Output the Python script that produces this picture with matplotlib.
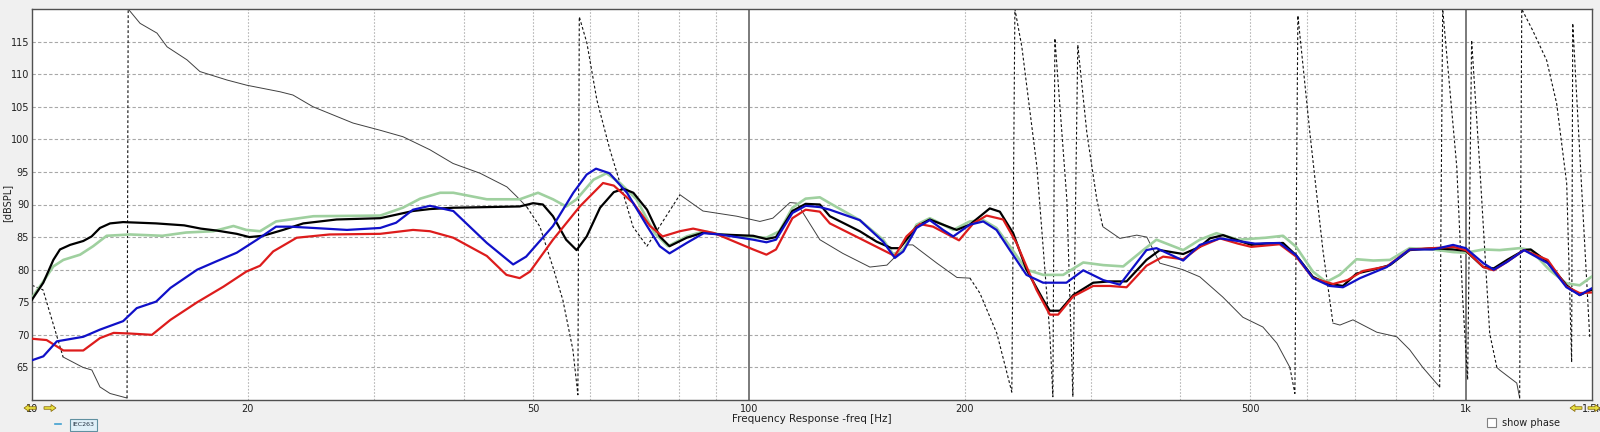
import matplotlib
matplotlib.use("Agg")
import matplotlib.pyplot as plt
from matplotlib.patches import Rectangle, FancyArrow

# frequency response traces [Hz], [dBSPL]
black_hz = [10.0, 10.37, 10.71, 10.94, 11.3, 11.79, 12.11, 12.44, 12.85, 13.4, 14.9, 16.3, 17.2, 18.1,
            19.3, 20.1, 21.0, 22.4, 23.9, 26.6, 30.6, 34.0, 35.9, 38.7, 47.9, 50.0, 51.6, 53.3, 55.6,
            57.5, 59.4, 62.0, 64.8, 66.9, 69.0, 72.1, 75.1, 77.5, 81.9, 86.5, 91.1, 101.4, 105.8, 109.1,
            115.0, 120.0, 125.6, 129.7, 142.8, 150.7, 158.1, 162.4, 171.3, 178.8, 186.6, 194.9, 203.3,
            216.8, 223.9, 233.7, 243.9, 257.3, 262.9, 271.5, 283.4, 302.2, 318.8, 336.4, 358.6, 374.3,
            403.5, 425.6, 439.5, 458.6, 481, 502, 526, 556, 580, 612, 639, 674, 704, 743, 784, 835, 900,
            960, 1000, 1058, 1094, 1142, 1206, 1232, 1301, 1382, 1442, 1497]
black_db = [75.4, 78.0, 81.5, 83.1, 83.8, 84.4, 85.1, 86.4, 87.1, 87.3, 87.1, 86.8, 86.3, 86.0,
            85.5, 85.0, 85.2, 86.1, 87.1, 87.7, 87.9, 89.0, 89.3, 89.5, 89.7, 90.2, 90.0, 88.2, 84.6,
            83.0, 85.1, 89.5, 91.9, 92.4, 91.8, 89.2, 85.1, 83.6, 84.9, 85.7, 85.4, 85.2, 84.7, 85.0,
            89.0, 90.1, 90.0, 88.2, 85.9, 84.3, 83.3, 83.3, 86.6, 87.7, 86.9, 86.1, 86.9,
            89.4, 88.9, 85.6, 80.0, 75.4, 73.7, 73.7, 76.1, 78.0, 78.2, 78.2, 81.5, 83.0,
            82.4, 83.5, 84.8, 85.3, 84.5, 83.8, 84.0, 84.1, 82.2, 78.9, 77.9, 77.5, 79.4, 80.0, 80.7, 83.0, 83.3,
            83.1, 82.9, 80.4, 80.2, 81.5, 83.0, 83.1, 81.2, 77.6, 76.1, 76.9]

green_hz = [10.0, 10.37, 10.71, 11.06, 11.67, 12.17, 12.71, 13.7, 15.2, 16.4, 17.9, 19.1, 19.9, 20.8,
            21.9, 24.7, 30.6, 32.9, 34.8, 37.1, 38.7, 43.1, 47.9, 50.8, 53.3, 55.6, 57.5, 60.7, 63.3,
            66.1, 69.7, 73.9, 77.1, 81.9, 86.5, 91.1, 101.4, 105.8, 110.3, 115.0, 120.0, 125.6, 129.7,
            142.8, 153.9, 158.9, 164.2, 171.3, 178.8, 186.6, 192.8, 203.3, 212.3, 221.5, 231.2, 243.9,
            257.3, 274.4, 292.7, 312.1, 332.8, 354.8, 370.3, 403.5, 425.6, 449, 481, 526, 556, 580, 612,
            639, 667, 704, 743, 784, 835, 900, 960, 1000, 1058, 1115, 1189, 1232, 1310, 1382, 1442, 1497]
green_db = [75.7, 78.2, 80.5, 81.5, 82.3, 83.6, 85.2, 85.4, 85.2, 85.7, 85.9, 86.7, 86.1, 85.9,
            87.4, 88.2, 88.3, 89.5, 90.9, 91.8, 91.8, 90.8, 90.8, 91.8, 90.8, 89.7, 90.8, 93.8, 94.8,
            93.3, 90.8, 85.6, 83.6, 85.1, 85.9, 85.4, 85.0, 84.9, 85.9, 89.5, 90.9, 91.1, 90.2,
            87.6, 84.6, 82.4, 83.0, 86.9, 87.9, 86.9, 86.1, 87.4, 87.6, 86.4, 83.6, 80.0,
            79.2, 79.2, 81.1, 80.7, 80.5, 83.0, 84.6, 83.0, 84.6, 85.6, 84.6, 84.9, 85.2, 83.5, 79.7,
            78.1, 79.2, 81.6, 81.4, 81.5, 83.3, 83.1, 82.7, 82.6, 83.1, 83.0, 83.3, 83.0, 79.9, 77.9, 77.6, 78.9]

blue_hz = [10.0, 10.37, 10.83, 11.79, 12.44, 13.4, 14.0, 14.9, 15.6, 17.0, 18.1, 19.3, 20.6, 21.9,
           22.9, 24.7, 27.5, 30.6, 32.2, 34.0, 35.9, 38.7, 43.1, 46.9, 48.9, 53.3, 56.9, 59.4, 61.2,
           63.9, 67.6, 72.1, 75.1, 77.5, 81.9, 86.5, 91.1, 101.4, 105.8, 109.1, 115.0, 120.0, 125.6,
           129.7, 142.8, 153.9, 159.8, 164.2, 171.3, 178.8, 186.6, 192.8, 203.3, 212.3, 221.5, 231.2,
           243.9, 257.3, 277.3, 292.7, 312.1, 329.2, 358.6, 370.3, 403.5, 425.6, 454, 481, 508, 550, 580,
           612, 646, 674, 712, 776, 835, 900, 960, 1000, 1058, 1094, 1142, 1206, 1301, 1382, 1442, 1497]
blue_db = [66.1, 66.7, 69.0, 69.7, 70.8, 72.1, 74.1, 75.1, 77.2, 80.0, 81.3, 82.6, 84.6, 86.6,
           86.6, 86.4, 86.1, 86.4, 87.2, 89.2, 89.8, 89.0, 84.1, 80.8, 82.0, 86.7, 91.8, 94.6, 95.5,
           94.8, 91.8, 86.7, 83.6, 82.5, 84.1, 85.6, 85.4, 84.6, 84.2, 84.6, 88.7, 89.8, 89.6,
           89.2, 87.6, 84.3, 81.8, 82.8, 86.4, 87.6, 86.1, 85.1, 86.9, 87.4, 86.1, 83.0,
           79.2, 78.0, 78.0, 79.9, 78.4, 77.7, 83.0, 83.3, 81.4, 83.8, 84.8, 84.4, 84.0, 84.1, 82.2,
           78.7, 77.5, 77.3, 78.7, 80.4, 83.1, 83.1, 83.8, 83.3, 81.0, 80.0, 81.2, 83.0, 81.0, 77.3, 76.1, 77.1]

red_hz = [10.0, 10.48, 11.06, 11.79, 12.44, 13.0, 13.7, 14.7, 15.6, 17.0, 18.5, 19.9, 20.8, 21.7,
          23.4, 26.0, 30.6, 34.0, 35.9, 38.7, 43.1, 45.9, 47.9, 49.5, 53.3, 58.1, 62.6, 64.8, 69.0,
          72.8, 75.8, 80.1, 83.6, 89.5, 101.4, 105.8, 109.1, 115.0, 120.0, 125.6, 129.7, 142.8, 153.9,
          159.8, 165.9, 173.2, 180.7, 196.4, 205.6, 214.6, 226.3, 236.2, 251.9, 262.9, 270.0, 283.4,
          302.2, 318.8, 336.4, 358.6, 378.3, 403.5, 425.6, 454, 481, 502, 550, 580, 612, 653, 684, 719,
          776, 835, 900, 960, 1000, 1058, 1094, 1142, 1206, 1301, 1382, 1442, 1497]
red_db = [69.4, 69.2, 67.6, 67.6, 69.5, 70.3, 70.2, 70.0, 72.3, 75.0, 77.4, 79.7, 80.6, 82.8,
          84.9, 85.4, 85.5, 86.1, 85.9, 84.9, 82.1, 79.2, 78.7, 79.7, 84.6, 89.7, 93.3, 92.9, 90.2,
          86.7, 85.1, 85.9, 86.3, 85.6, 83.1, 82.3, 83.1, 87.9, 89.2, 88.9, 87.1, 84.8, 83.0,
          82.1, 85.1, 87.0, 86.6, 84.5, 87.1, 88.3, 87.7, 84.1, 76.9, 73.1, 73.1, 75.9,
          77.5, 77.5, 77.3, 80.6, 82.0, 81.6, 83.5, 84.8, 84.0, 83.5, 83.9, 82.0, 78.7, 77.8, 78.4, 79.8,
          80.5, 83.1, 83.3, 83.5, 83.0, 80.4, 79.9, 81.2, 83.0, 81.5, 77.4, 76.4, 76.5]

# wrapped phase trace, drawn thin; style per segment: s = solid, d = dashed
phase_hz = [10.0, 10.36, 10.77, 11.05, 11.78, 12.12, 12.44, 12.85, 13.57, 13.62, 14.15, 14.94, 15.43,
            16.45, 17.15, 18.71, 19.94, 22.18, 23.12, 24.66, 28.04, 30.58, 32.92, 35.9, 38.66, 42.17,
            45.97, 47.47, 49.02, 51.11, 53.29, 55.03, 56.82, 57.74, 58.0, 59.43, 61.38, 64.0, 66.73,
            68.91, 72.08, 80.13, 86.29, 96.21, 103.6, 108.0, 114.1, 116.7, 125.6, 135.2, 147.5, 155.8,
            166.2, 169.3, 182.9, 195.1, 203.4, 210.0, 221.8, 232.7, 235.0, 240.3, 252.2, 262.9, 265.5,
            267.2, 277.7, 283.1, 287.6, 296.1, 305.8, 311.7, 329.2, 347.6, 359.0, 374.3, 403.0, 425.6,
            458.2, 488.7, 521.2, 545.2, 568.4, 577.6, 583.2, 606.1, 632.0, 652.7, 667.5, 696.0, 751.5,
            801.3, 835.4, 871.0, 919.6, 928.5, 971.5, 990.4, 1006, 1019, 1046, 1080, 1105, 1115, 1178,
            1189, 1197, 1240, 1297, 1339, 1383, 1405, 1410, 1489]
phase_db = [77.6, 76.9, 70.7, 66.6, 65.0, 64.6, 62.0, 61.0, 60.3, 120.0, 117.8, 116.3, 114.2,
            112.2, 110.4, 109.1, 108.3, 107.3, 106.8, 105.0, 102.5, 101.4, 100.4, 98.4, 96.3, 94.8,
            92.7, 91.2, 89.6, 86.6, 80.4, 75.3, 67.7, 60.8, 118.8, 114.8, 106.0, 98.4, 91.8,
            86.6, 83.6, 91.5, 89.0, 88.2, 87.4, 87.9, 90.3, 90.2, 84.6, 82.5, 80.4, 80.7,
            83.8, 83.8, 81.0, 78.8, 78.7, 76.4, 70.2, 61.2, 120.0, 114.2, 95.8, 70.2, 60.5,
            115.5, 90.7, 60.5, 114.5, 101.0, 90.7, 86.6, 84.8, 85.3, 85.0, 81.0, 80.0, 78.9,
            75.8, 72.7, 71.2, 68.7, 65.0, 61.0, 119.0, 101.0, 83.0, 71.8, 71.5, 72.3, 70.4,
            69.7, 67.7, 65.0, 62.0, 120.0, 95.8, 75.3, 63.1, 115.2, 95.8, 70.2, 65.0, 64.6, 62.6,
            60.3, 120.0, 116.7, 112.1, 105.5, 93.2, 65.8, 117.8, 69.7]
phase_ls = ("ddd" "sssss" "d" + "s" * 19 + "d" * 13 + "s" * 15 + "d" * 15 + "s" * 11
            + "ddddd" + "s" * 7 + "d" * 8 + "sss" + "d" * 8)

x_ticks = [10, 20, 50, 100, 200, 500, 1000, 1500]
x_labels = ["10", "20", "50", "100", "200", "500", "1k", "1.5k"]
y_ticks = [65, 70, 75, 80, 85, 90, 95, 100, 105, 110, 115]

W, H = 1600, 432
fig = plt.figure(figsize=(W / 100, H / 100), dpi=100, facecolor="#f0f0f0")
ax = fig.add_axes([32 / W, 1 - 400 / H, 1560 / W, 391 / H])
ax.set_facecolor("white")
ax.set_xscale("log")
ax.set_xlim(10, 1500)
ax.set_ylim(60, 120)

# grid: dashed horizontals, dotted minor verticals, solid decade lines
for y in y_ticks:
    ax.axhline(y, color="#a8a8a8", lw=0.8, ls=(0, (3, 2)), zorder=1)
for dec in [10, 100, 1000]:
    for m in range(2, 10):
        if dec * m < 1500:
            ax.axvline(dec * m, color="#b8b8b8", lw=0.8, ls=(0, (1.5, 1.5)), zorder=1)
for dec in [100, 1000]:
    ax.axvline(dec, color="#707070", lw=1.3, zorder=1)

# phase trace
start = 0
for i in range(1, len(phase_ls) + 1):
    if i == len(phase_ls) or phase_ls[i] != phase_ls[start]:
        if phase_ls[start] == "s":
            ax.plot(phase_hz[start:i + 1], phase_db[start:i + 1], color="#404040", lw=0.7, zorder=2)
        else:
            ax.plot(phase_hz[start:i + 1], phase_db[start:i + 1], color="#111111", lw=0.8,
                    ls=(0, (2.5, 2)), zorder=2)
        start = i

ax.plot(green_hz, green_db, color="#9fd09f", lw=1.9, zorder=3)
ax.plot(black_hz, black_db, color="#000000", lw=1.6, zorder=4)
ax.plot(red_hz, red_db, color="#dd1c1c", lw=1.6, zorder=5)
ax.plot(blue_hz, blue_db, color="#1010c8", lw=1.6, zorder=6)

ax.set_xticks(x_ticks)
ax.set_xticklabels(x_labels)
ax.set_xticks([], minor=True)
ax.set_yticks(y_ticks)
ax.tick_params(axis="both", length=0, labelsize=7, colors="#202020", pad=3)
ax.tick_params(axis="y", pad=2)
for s in ax.spines.values():
    s.set_color("#505050")
    s.set_linewidth(1.0)

ax.set_xlabel("Frequency Response -freq [Hz]", fontsize=7.5, color="#202020", labelpad=0)
fig.text(7 / W, 1 - 203 / H, "[dBSPL]", fontsize=7, color="#202020", rotation=90,
         ha="center", va="center")

# window widgets below the plot
fig.text(1502 / W, 1 - 423 / H, "show phase", fontsize=7, va="center", ha="left", color="#202020")
fig.patches.append(Rectangle((1487 / W, 1 - 427 / H), 9 / W, 9 / H, transform=fig.transFigure,
                             facecolor="white", edgecolor="#808080", lw=0.8))
fig.patches.append(Rectangle((70 / W, 1 - 431 / H), 27 / W, 12 / H, transform=fig.transFigure,
                             facecolor="#dff0f8", edgecolor="#6090a0", lw=0.8))
fig.text(83 / W, 1 - 425 / H, "IEC263", fontsize=4.5, ha="center", va="center", color="#203040")
fig.lines.append(plt.Line2D([55 / W, 61 / W], [1 - 424 / H, 1 - 424 / H], transform=fig.transFigure,
                            color="#40a0d0", lw=1.2))
for x0, x1 in [(36, 24), (44, 56), (1582, 1570), (1588, 1600)]:
    fig.patches.append(FancyArrow(x0 / W, 1 - 408 / H, (x1 - x0) / W, 0, width=2.5 / H,
                                  head_width=7 / H, head_length=5 / W, length_includes_head=True,
                                  transform=fig.transFigure, facecolor="#e8e040", edgecolor="#806000",
                                  lw=0.5))

fig.savefig("out.png", dpi=100, facecolor=fig.get_facecolor())
